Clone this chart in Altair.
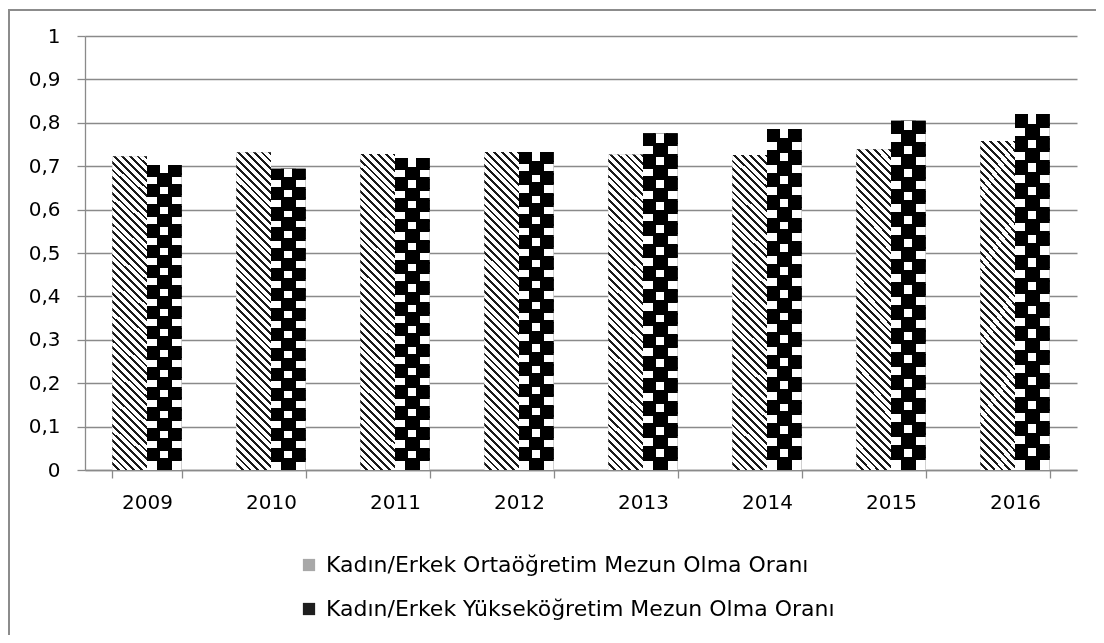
import math
import altair as alt
import pandas as pd

# ---- data ----
years = ["2009", "2010", "2011", "2012", "2013", "2014", "2015", "2016"]
series_names = [
    "Kadın/Erkek Ortaöğretim Mezun Olma Oranı",
    "Kadın/Erkek Yükseköğretim Mezun Olma Oranı",
]
orta_values = [0.723, 0.732, 0.728, 0.733, 0.727, 0.726, 0.739, 0.758]
yuksek_values = [0.703, 0.694, 0.719, 0.733, 0.776, 0.786, 0.805, 0.820]
y_ticks = [0, 0.1, 0.2, 0.3, 0.4, 0.5, 0.6, 0.7, 0.8, 0.9, 1]

rows = []
for yr, v in zip(years, orta_values):
    rows.append({"year": yr, "series": series_names[0], "value": v})
for yr, v in zip(years, yuksek_values):
    rows.append({"year": yr, "series": series_names[1], "value": v})
df = pd.DataFrame(rows)
frame_df = pd.DataFrame({"k": [0]})

# ---- layout ----
W, H = 992, 434
FONT = "DejaVu Sans"
GRID = "#8a8a8a"
FRAME = "#8c8c8c"
clear = "rgba(0,0,0,0)"


def band_stops(colors):
    n = len(colors)
    stops = []
    for i, col in enumerate(colors):
        stops += [
            {"offset": round(i / n, 5), "color": col},
            {"offset": round((i + 1) / n, 5), "color": col},
        ]
    return stops


def stripe_stops(periods, dark_frac, dark, light):
    stops = []
    for i in range(periods):
        a = round(i / periods, 5)
        b = round((i + dark_frac) / periods, 5)
        c = round((i + 1) / periods, 5)
        stops += [
            {"offset": a, "color": dark},
            {"offset": b, "color": dark},
            {"offset": b, "color": light},
            {"offset": c, "color": light},
        ]
    return stops


def line_stops(n, half, dark):
    # thin dark lines at each of the n-1 inner band boundaries
    stops = [{"offset": 0, "color": clear}]
    for k in range(1, n):
        c = k / n
        stops += [
            {"offset": round(c - half, 5), "color": clear},
            {"offset": round(c - half, 5), "color": dark},
            {"offset": round(c + half, 5), "color": dark},
            {"offset": round(c + half, 5), "color": clear},
        ]
    stops.append({"offset": 1, "color": clear})
    return stops


def back_gradient(w, h, period, dark_frac, dark, light):
    # stripes running top-left -> bottom-right
    a = w * (w + h) / (w * w + h * h)
    n = max(1, round((w + h) / math.sqrt(2) / period))
    return {"gradient": "linear", "x1": 1, "y1": 0, "x2": 1 - a, "y2": a * h / w,
            "stops": stripe_stops(n, dark_frac, dark, light)}


bar_w = 34.7
dot_h = 330
hatch_fill = back_gradient(bar_w, 318, 5.6, 0.36, "#1a1a1a", "#ffffff")
# checkerboard: horizontal bands, then vertical bands inverted with a difference blend
dots_rows = {"gradient": "linear", "x1": 0, "y1": 0, "x2": 0, "y2": 1,
             "stops": stripe_stops(15, 0.5, "#000000", "#ffffff")}
dots_cols = {"gradient": "linear", "x1": 0, "y1": 0, "x2": 1, "y2": 0,
             "stops": band_stops([clear, "#ffffff", clear])}
# dark seams between the cells so the white squares stand apart
seam_rows = {"gradient": "linear", "x1": 0, "y1": 0, "x2": 0, "y2": 1,
             "stops": line_stops(30, 1.7 / dot_h, "#000000")}
seam_cols = {"gradient": "linear", "x1": 0, "y1": 0, "x2": 1, "y2": 0,
             "stops": line_stops(3, 1.7 / bar_w, "#000000")}

x_enc = alt.X(
    "year:N",
    sort=years,
    scale=alt.Scale(paddingInner=0.44, paddingOuter=0.22),
    axis=alt.Axis(
        title=None, labelAngle=0, tickBand="extent", tickSize=8, tickColor=GRID,
        domainColor=GRID, domainWidth=1.3, tickWidth=1.3, labelPadding=14,
        labelFont=FONT, labelFontSize=20, labelColor="black", grid=False,
    ),
)
xo_enc = alt.XOffset("series:N", scale=alt.Scale(domain=series_names, paddingInner=0, paddingOuter=0))
y_enc = alt.Y(
    "value:Q",
    scale=alt.Scale(domain=[0, 1], nice=False),
    axis=alt.Axis(
        title=None, values=y_ticks,
        labelExpr="replace(format(datum.value, '.1~f'), '.', ',')",
        grid=True, gridColor=GRID, gridWidth=1.3, tickSize=8, tickColor=GRID,
        tickWidth=1.3, domainColor=GRID, domainWidth=1.3, labelPadding=17,
        labelFont=FONT, labelFontSize=20, labelColor="black",
    ),
)

base = alt.Chart(df).mark_bar().encode(
    x=x_enc,
    xOffset=xo_enc,
    y=y_enc,
    color=alt.Color(
        "series:N",
        scale=alt.Scale(domain=series_names, range=["#a8a8a8", "#1e1e1e"]),
        legend=alt.Legend(
            orient="none", legendX=213, legendY=518, direction="vertical",
            title=None, symbolType="square", symbolSize=150, symbolStrokeWidth=0,
            labelFont=FONT, labelFontSize=22, labelColor="black", labelOffset=6,
            labelLimit=1000, rowPadding=22, padding=0,
        ),
    ),
)


def series_layer(name, fill, **kw):
    return alt.Chart(df).transform_filter(
        alt.datum.series == name
    ).mark_bar(fill=fill, **kw).encode(x=x_enc, xOffset=xo_enc, y=y_enc)


hatch_layer = series_layer(series_names[0], hatch_fill)
dots_layer1 = series_layer(series_names[1], dots_rows)
dots_layer2 = series_layer(series_names[1], dots_cols, blend="difference")
dots_layer3 = series_layer(series_names[1], seam_rows)
dots_layer4 = series_layer(series_names[1], seam_cols)

frame = alt.Chart(frame_df).mark_rect(
    filled=False, stroke=FRAME, strokeWidth=2
).encode(
    x=alt.value(-76), x2=alt.value(1040), y=alt.value(-26), y2=alt.value(660)
)
frame_top = alt.Chart(frame_df).mark_rule(stroke=FRAME, strokeWidth=2).encode(
    x=alt.value(-76), x2=alt.value(1040), y=alt.value(-26)
)

chart = alt.layer(
    frame, frame_top, base, hatch_layer, dots_layer1, dots_layer2, dots_layer3, dots_layer4
).properties(
    width=W, height=H,
    autosize=alt.AutoSizeParams(type="none"),
    padding={"left": 77, "top": 28, "right": 19, "bottom": 165},
    background="white",
).configure_view(stroke=None)

chart.save("out.html", embed_options={"renderer": "svg", "actions": False})
